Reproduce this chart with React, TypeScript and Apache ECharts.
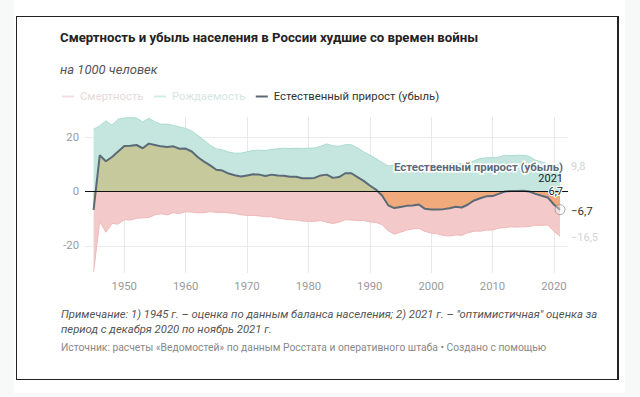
import React, { useEffect, useRef } from 'react';
import * as echarts from 'echarts';

const TITLE = 'Смертность и убыль населения в России худшие со времен войны';
const SUBTITLE = 'на 1000 человек';
const NOTE_1 = 'Примечание: 1) 1945 г. – оценка по данным баланса населения; 2) 2021 г. – "оптимистичная" оценка за';
const NOTE_2 = 'период с декабря 2020 по ноябрь 2021 г.';
const SOURCE = 'Источник: расчеты «Ведомостей» по данным Росстата и оперативного штаба • Создано с помощью';

const SERIES_DEATH = 'Смертность';
const SERIES_BIRTH = 'Рождаемость';
const SERIES_NATURAL = 'Естественный прирост (убыль)';

const years = [
  1945, 1946, 1947, 1948, 1949, 1950, 1951, 1952, 1953, 1954,
  1955, 1956, 1957, 1958, 1959, 1960, 1961, 1962, 1963, 1964,
  1965, 1966, 1967, 1968, 1969, 1970, 1971, 1972, 1973, 1974,
  1975, 1976, 1977, 1978, 1979, 1980, 1981, 1982, 1983, 1984,
  1985, 1986, 1987, 1988, 1989, 1990, 1991, 1992, 1993, 1994,
  1995, 1996, 1997, 1998, 1999, 2000, 2001, 2002, 2003, 2004,
  2005, 2006, 2007, 2008, 2009, 2010, 2011, 2012, 2013, 2014,
  2015, 2016, 2017, 2018, 2019, 2020, 2021,
];

const birthRate = [
  22.9, 24.1, 26.0, 24.4, 26.6, 27.0, 27.2, 27.0, 25.6, 26.9,
  25.6, 24.7, 24.8, 24.3, 23.7, 23.2, 22.2, 20.6, 18.8, 17.0,
  15.7, 15.3, 14.5, 14.1, 14.1, 14.6, 15.1, 15.2, 15.0, 15.5,
  15.7, 15.9, 15.8, 15.9, 15.8, 15.9, 16.0, 16.6, 17.5, 16.8,
  16.6, 17.2, 17.2, 16.0, 14.6, 13.4, 12.1, 10.7, 9.4, 9.6,
  9.3, 8.9, 8.6, 8.8, 8.3, 8.7, 9.0, 9.7, 10.2, 10.4,
  10.2, 10.4, 11.3, 12.1, 12.4, 12.5, 12.6, 13.3, 13.2, 13.3,
  13.3, 12.9, 11.5, 10.9, 10.1, 9.8, 9.8,
];

const deathRate = [
  29.6, 11.0, 15.0, 11.8, 12.0, 10.4, 10.5, 9.9, 9.7, 9.6,
  8.6, 8.2, 8.6, 7.8, 8.1, 7.5, 7.6, 7.9, 7.8, 7.4,
  7.7, 7.7, 7.9, 8.1, 8.6, 8.8, 8.8, 9.0, 9.3, 9.3,
  9.8, 10.1, 10.4, 10.5, 10.9, 11.0, 11.0, 10.7, 11.3, 11.8,
  11.3, 10.4, 10.5, 10.7, 10.7, 11.2, 11.4, 12.2, 14.5, 15.7,
  15.0, 14.2, 13.8, 13.6, 14.7, 15.3, 15.6, 16.2, 16.4, 16.0,
  16.1, 15.2, 14.6, 14.6, 14.2, 14.2, 13.5, 13.3, 13.0, 13.1,
  13.0, 12.9, 12.4, 12.5, 12.3, 14.6, 16.5,
];

const naturalIncrease = [
  -6.8, 13.3, 11.1, 12.7, 14.7, 16.7, 16.8, 17.1, 15.9, 17.6,
  17.1, 16.6, 16.4, 16.6, 15.7, 15.8, 14.7, 12.6, 11.0, 9.6,
  8.0, 7.7, 6.6, 6.0, 5.5, 5.9, 6.3, 6.2, 5.7, 6.2,
  5.9, 5.8, 5.4, 5.4, 4.9, 4.9, 5.0, 5.9, 6.2, 5.0,
  5.3, 6.7, 6.7, 5.3, 3.9, 2.2, 0.7, -1.5, -5.1, -6.1,
  -5.7, -5.3, -5.2, -4.8, -6.4, -6.6, -6.6, -6.5, -6.2, -5.6,
  -5.9, -4.8, -3.3, -2.5, -1.8, -1.7, -0.9, 0.0, 0.2, 0.2,
  0.3, 0.0, -0.9, -1.6, -2.2, -4.8, -6.7,
];

const xTicks = [1950, 1960, 1970, 1980, 1990, 2000, 2010, 2020];
const yTicks = [-20, 0, 20];

const fmt = (v: number) => (v < 0 ? '−' : '') + Math.abs(v).toFixed(1).replace('.', ',');

export default function App() {
  const ref = useRef<HTMLDivElement>(null);

  useEffect(() => {
    document.body.style.margin = '0';
    const chart = echarts.init(ref.current!, null, { renderer: 'svg' });

    const last = years.length - 1;
    const lastYear = years[last];
    const birthData = years.map((y, i) => [y, birthRate[i]]);
    const deathData = years.map((y, i) => [y, -deathRate[i]]);
    const natData = years.map((y, i) => [y, naturalIncrease[i]]);
    const natMax = Math.max(...naturalIncrease);
    const natMin = Math.min(...naturalIncrease);
    const zeroStop = natMax / (natMax - natMin);

    const olive = '#c5c99c';
    const orange = '#f1aa7b';
    const font = 'Roboto';

    const option: any = {
      animation: false,
      textStyle: { fontFamily: font },
      title: [
        {
          text: TITLE, left: 60, top: 31, padding: 0,
          textStyle: { fontFamily: font, fontSize: 13.2, fontWeight: 'bold', color: '#222' },
        },
        {
          text: SUBTITLE, left: 60, top: 63, padding: 0,
          textStyle: { fontFamily: font, fontSize: 13, fontStyle: 'italic', fontWeight: 'normal', color: '#555' },
        },
      ],
      legend: {
        left: 62, top: 91, padding: 0, icon: 'rect', itemWidth: 12, itemHeight: 2, itemGap: 10.5,
        selectedMode: false,
        textStyle: { fontFamily: font, fontSize: 11.3, padding: [0, 0, 0, 1] },
        data: [
          { name: SERIES_DEATH, itemStyle: { color: '#f6dcdc' }, textStyle: { color: '#e6d9d9' } },
          { name: SERIES_BIRTH, itemStyle: { color: '#d3ece7' }, textStyle: { color: '#d6e6e3' } },
          { name: SERIES_NATURAL, itemStyle: { color: '#5b6a77' }, textStyle: { color: '#333' } },
        ],
      },
      grid: { left: 85, right: 72, top: 117, bottom: 124 },
      xAxis: {
        type: 'value', min: 1943.6, max: 2022.3,
        axisLine: { show: false },
        axisTick: { show: false, customValues: xTicks },
        axisLabel: {
          customValues: xTicks, color: '#9a9a9a', fontSize: 11.3, margin: 8,
          formatter: (v: number) => String(v),
        },
        splitLine: { show: true, lineStyle: { color: '#e8e8e8', width: 1 } },
      },
      yAxis: {
        type: 'value', min: -30, max: 27.4,
        axisLine: { show: false },
        axisTick: { show: false, customValues: yTicks },
        axisLabel: {
          customValues: yTicks, color: '#9a9a9a', fontSize: 11.3, margin: 6,
          formatter: (v: number) => String(v),
        },
        splitLine: { show: true, lineStyle: { color: '#ebebeb', width: 1 } },
      },
      series: [
        {
          name: SERIES_BIRTH, type: 'line', data: birthData, symbol: 'none', silent: true,
          lineStyle: { color: '#a9dbcf', width: 1 },
          itemStyle: { color: '#a9dbcf' },
          areaStyle: { color: '#c4e6df', opacity: 1 },
          endLabel: {
            show: true, distance: 11, offset: [0, 2], color: '#d4d4d4', fontSize: 11, fontFamily: font,
            formatter: (p: any) => fmt(p.value[1]),
          },
          markPoint: {
            silent: true, symbol: 'circle', symbolSize: 0,
            data: [{
              coord: [lastYear, birthRate[last]],
              label: {
                show: true, position: 'left', distance: -3, offset: [0, 2],
                formatter: SERIES_NATURAL, color: '#5b6a77', fontWeight: 'bold', fontSize: 11.4,
                fontFamily: font, textBorderColor: '#fff', textBorderWidth: 3,
              },
            }],
          },
        },
        {
          name: SERIES_DEATH, type: 'line', data: deathData, symbol: 'none', silent: true,
          lineStyle: { color: '#efb8b8', width: 1 },
          itemStyle: { color: '#efb8b8' },
          areaStyle: { color: '#f3c9c9', opacity: 1 },
          endLabel: {
            show: true, distance: 11, offset: [0, 1], color: '#d4d4d4', fontSize: 11, fontFamily: font,
            formatter: (p: any) => fmt(p.value[1]),
          },
        },
        {
          name: SERIES_NATURAL, type: 'line', data: natData, symbol: 'none', silent: true, z: 3,
          lineStyle: { color: '#5b6a77', width: 2 },
          itemStyle: { color: '#5b6a77' },
          areaStyle: {
            opacity: 1,
            color: new echarts.graphic.LinearGradient(0, 0, 0, 1, [
              { offset: 0, color: olive },
              { offset: zeroStop, color: olive },
              { offset: zeroStop, color: orange },
              { offset: 1, color: orange },
            ]),
          },
          endLabel: {
            show: true, distance: 11, offset: [0, 1], color: '#333', fontSize: 11.5, fontFamily: font,
            formatter: (p: any) => fmt(p.value[1]),
          },
          markLine: {
            silent: true, symbol: 'none',
            label: { show: false },
            lineStyle: { color: '#111', width: 1.2, type: 'solid' },
            data: [{ yAxis: 0 }],
          },
          markPoint: {
            silent: true,
            data: [
              {
                coord: [lastYear, naturalIncrease[last]], symbol: 'circle', symbolSize: 10,
                itemStyle: { color: 'rgba(255,255,255,0.35)', borderColor: '#a0a0a0', borderWidth: 1 },
                label: { show: false },
              },
              {
                coord: [lastYear, 0], symbol: 'circle', symbolSize: 0,
                label: {
                  show: true, position: 'left', distance: -3, offset: [0, -12.5],
                  formatter: String(lastYear), color: '#222', fontSize: 11, fontFamily: font,
                },
              },
              {
                coord: [lastYear, 0], symbol: 'circle', symbolSize: 0,
                label: {
                  show: true, position: 'left', distance: -3, offset: [0, 0],
                  formatter: fmt(Math.abs(naturalIncrease[last])), color: '#222', fontSize: 11,
                  fontFamily: font, textBorderColor: '#fff', textBorderWidth: 2,
                },
              },
            ],
          },
        },
      ],
      graphic: [
        { type: 'text', left: 61, top: 309, silent: true,
          style: { text: NOTE_1, fill: '#555', fontSize: 11.3, fontStyle: 'italic', fontFamily: font } },
        { type: 'text', left: 61, top: 324, silent: true,
          style: { text: NOTE_2, fill: '#555', fontSize: 11.3, fontStyle: 'italic', fontFamily: font } },
        { type: 'text', left: 61, top: 342, silent: true,
          style: { text: SOURCE, fill: '#888', fontSize: 10.3, fontFamily: font } },
      ],
    };

    chart.setOption(option);
    return () => chart.dispose();
  }, []);

  return (
    <div style={{ position: 'relative', width: 640, height: 397, background: '#f7f8f8', overflow: 'hidden' }}>
      <div style={{ position: 'absolute', left: 14, top: 0, width: 611, height: 393, background: '#fff' }} />
      <div
        style={{
          position: 'absolute', left: 16, top: 16, width: 603, height: 364, boxSizing: 'border-box',
          borderStyle: 'solid', borderColor: '#222', borderWidth: '1.5px 2px 1.5px 1.5px',
        }}
      />
      <div ref={ref} style={{ position: 'absolute', left: 0, top: 0, width: 640, height: 397 }} />
    </div>
  );
}
